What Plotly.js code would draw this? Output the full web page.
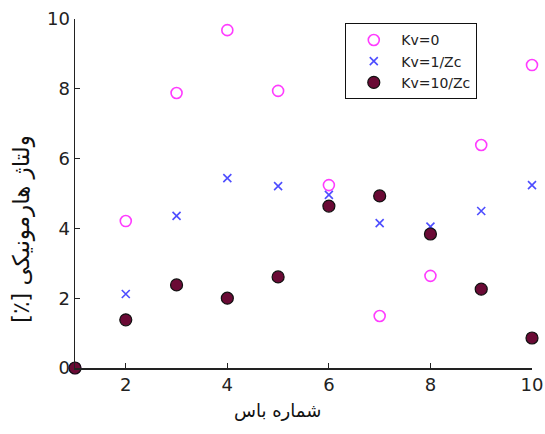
<!DOCTYPE html>
<html>
<head>
<meta charset="utf-8">
<script src="https://cdn.plot.ly/plotly-3.0.1.min.js"></script>
<style>html,body{margin:0;padding:0;background:#fff;}#chart{width:545px;height:434px;}</style>
</head>
<body>
<div id="chart"></div>
<script>
const busNumbers = [1, 2, 3, 4, 5, 6, 7, 8, 9, 10];
const kv0 = [0, 4.21, 7.88, 9.68, 7.94, 5.24, 1.49, 2.64, 6.39, 8.68];
const kv1Zc = [0, 2.12, 4.36, 5.44, 5.21, 4.96, 4.15, 4.05, 4.5, 5.24];
const kv10Zc = [0, 1.38, 2.38, 2.0, 2.61, 4.64, 4.93, 3.84, 2.26, 0.86];
const seriesNames = ['Kv=0', 'Kv=1/Zc', 'Kv=10/Zc'];
const xTicks = [2, 4, 6, 8, 10];
const yTicks = [0, 2, 4, 6, 8, 10];
const xTitle = 'شماره باس';
const yTitle = '\u202Bولتاژ هارمونیکی [٪]\u202C';

const traces = [
  {x: busNumbers, y: kv0, name: seriesNames[0], mode: 'markers', type: 'scatter', legendgroup: 'a', cliponaxis: false,
   marker: {symbol: 'circle-open', size: 11, color: '#ff3cff', line: {width: 1.6}}},
  {x: busNumbers, y: kv1Zc, name: seriesNames[1], mode: 'markers', type: 'scatter', legendgroup: 'b', cliponaxis: false,
   marker: {symbol: 'x-thin', size: 8, color: '#4d4dff', line: {width: 1.6, color: '#4d4dff'}}},
  {x: busNumbers, y: kv10Zc, name: seriesNames[2], mode: 'markers', type: 'scatter', legendgroup: 'c', cliponaxis: false,
   marker: {symbol: 'circle', size: 12, color: '#6a0a35', line: {width: 1.2, color: '#111'}}}
];

const layout = {
  width: 545, height: 434,
  margin: {l: 75, r: 13, t: 19, b: 66},
  paper_bgcolor: '#fff', plot_bgcolor: '#fff',
  showlegend: true,
  font: {family: 'DejaVu Sans, sans-serif', color: '#222'},
  xaxis: {range: [1, 10], tickvals: xTicks, ticks: 'inside', ticklen: 5, tickwidth: 1.2, tickcolor: '#222',
    showline: true, linecolor: '#222', linewidth: 1.5, showgrid: false, zeroline: false,
    tickfont: {size: 18, family: 'DejaVu Sans, sans-serif', color: '#222'}, title: {text: ''}},
  yaxis: {range: [0, 10], tickvals: yTicks, ticks: 'inside', ticklen: 5, tickwidth: 1.2, tickcolor: '#222',
    showline: true, linecolor: '#222', linewidth: 1.5, showgrid: false, zeroline: false,
    tickfont: {size: 18, family: 'DejaVu Sans, sans-serif', color: '#222'}, title: {text: ''}},
  legend: {x: 0.591, y: 0.988, xanchor: 'left', yanchor: 'top', bordercolor: '#111', borderwidth: 1.2,
    bgcolor: '#fff', font: {size: 14, family: 'DejaVu Sans, sans-serif', color: '#222'},
    tracegroupgap: 6, traceorder: 'normal', itemwidth: 45, entrywidth: 135},
  annotations: [
    {text: xTitle, xref: 'paper', yref: 'paper', x: (277 - 75) / 457, y: -(410 - 368) / 349, xanchor: 'center', yanchor: 'middle',
     showarrow: false, font: {size: 18, family: 'DejaVu Sans, sans-serif', color: '#111'}},
    {text: yTitle, xref: 'paper', yref: 'paper', x: -(75 - 21) / 457, y: (368 - 229) / 349, xanchor: 'center', yanchor: 'middle',
     textangle: -90, showarrow: false, font: {size: 23, family: 'DejaVu Sans, sans-serif', color: '#111'}}
  ]
};

Plotly.newPlot('chart', traces, layout, {displayModeBar: false, staticPlot: true});
</script>
</body>
</html>
